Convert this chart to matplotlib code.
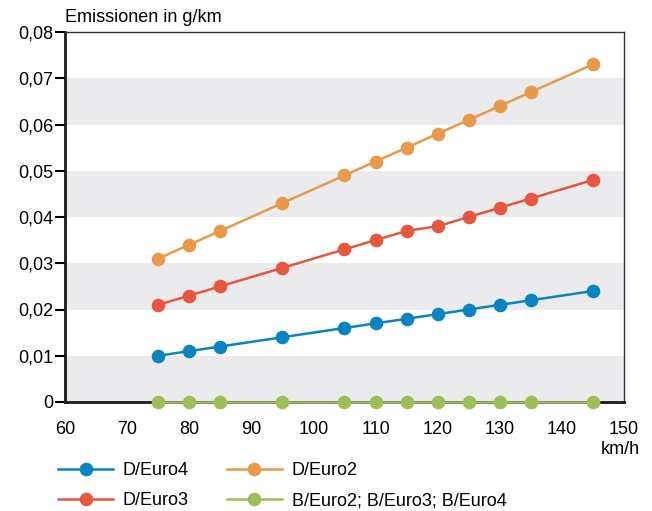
import matplotlib.pyplot as plt
from matplotlib.ticker import FuncFormatter

plt.rcParams['font.family'] = ['Liberation Sans', 'DejaVu Sans']

# Daten
speed = [75, 80, 85, 95, 105, 110, 115, 120, 125, 130, 135, 145]
d_euro4 = [0.010, 0.011, 0.012, 0.014, 0.016, 0.017, 0.018, 0.019, 0.020, 0.021, 0.022, 0.024]
d_euro3 = [0.021, 0.023, 0.025, 0.029, 0.033, 0.035, 0.037, 0.038, 0.040, 0.042, 0.044, 0.048]
d_euro2 = [0.031, 0.034, 0.037, 0.043, 0.049, 0.052, 0.055, 0.058, 0.061, 0.064, 0.067, 0.073]
b_euro = [0, 0, 0, 0, 0, 0, 0, 0, 0, 0, 0, 0]

series = [
    ('D/Euro4', d_euro4, '#0a84c0'),
    ('D/Euro3', d_euro3, '#e5573e'),
    ('D/Euro2', d_euro2, '#e8994a'),
    ('B/Euro2; B/Euro3; B/Euro4', b_euro, '#9dbf5a'),
]

fig = plt.figure(figsize=(6.52, 5.11), dpi=100)
ax = fig.add_axes([65 / 652, 1 - 402 / 511, 559 / 652, 370 / 511])

# graue Bänder
for lo in [0.0, 0.02, 0.04, 0.06]:
    ax.axhspan(lo, lo + 0.01, color='#ebebed', lw=0, zorder=0)

for name, vals, col in series:
    ax.plot(speed, vals, color=col, lw=1.8, marker='o', markersize=8.8,
            label=name, clip_on=False, zorder=3)

ax.set_xlim(60, 150)
ax.set_ylim(0, 0.08)
ax.set_xticks(range(60, 151, 10))
ax.set_yticks([i / 100 for i in range(9)])
ax.yaxis.set_major_formatter(FuncFormatter(
    lambda v, p: '0' if abs(v) < 1e-9 else f'{v:.2f}'.replace('.', ',')))

ax.tick_params(axis='y', length=7.5, width=1.5, color='black', labelsize=13, pad=1)
ax.tick_params(axis='x', length=0, labelsize=13, pad=14)

ax.spines['left'].set_linewidth(2)
ax.spines['bottom'].set_linewidth(2)
ax.spines['left'].set_color('#1a1a1a')
ax.spines['bottom'].set_color('#1a1a1a')
ax.spines['top'].set_linewidth(1)
ax.spines['right'].set_linewidth(1)
ax.spines['top'].set_color('#333333')
ax.spines['right'].set_color('#333333')

fig.text(65 / 652, 1 - 17 / 511, 'Emissionen in g/km', fontsize=13, ha='left', va='center')
fig.text(640 / 652, 1 - 449 / 511, 'km/h', fontsize=13, ha='right', va='center')

fig.legend(loc='upper left', bbox_to_anchor=(58 / 652, 1 - 462 / 511), ncol=2,
           frameon=False, fontsize=13, handlelength=3.05, columnspacing=2.1,
           labelspacing=0.72, handletextpad=0.55, borderaxespad=0, borderpad=0)

fig.savefig('out.png', dpi=100)
